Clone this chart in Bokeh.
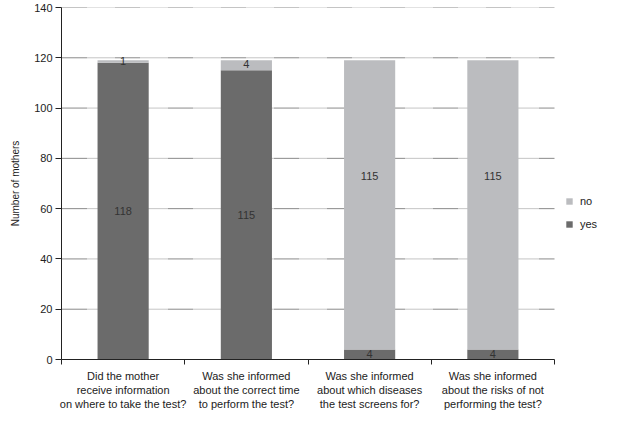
from bokeh.plotting import figure
from bokeh.models import ColumnDataSource, FixedTicker, Legend, LegendItem, Range1d
from bokeh.core.properties import value
from bokeh.embed import file_html
from bokeh.resources import INLINE

categories = [
    "Did the mother\nreceive information\non where to take the test?",
    "Was she informed\nabout the correct time\nto perform the test?",
    "Was she informed\nabout which diseases\nthe test screens for?",
    "Was she informed\nabout the risks of not\nperforming the test?",
]
yes = [118, 115, 4, 4]
no = [1, 4, 115, 115]
y_ticks = [0, 20, 40, 60, 80, 100, 120, 140]

FONT = "Liberation Sans"
YES_COLOR = "#6b6b6b"
NO_COLOR = "#bbbcbf"

W, H = 608, 413
LEFT = 61          # px left of plotting area
CAT_W = 493        # px width occupied by the categories
n = len(categories)
span = 2 * n
x_end = span * (W - LEFT) / CAT_W   # extra room on the right for the legend

xc = [2 * i + 1 for i in range(n)]
bounds = [2 * i for i in range(n + 1)]

src = ColumnDataSource(dict(
    x=xc, yes=yes, no=no,
    yes_lbl=[str(v) for v in yes],
    no_lbl=[str(v) for v in no],
    yes_y=[v / 2 for v in yes],
    no_y=[a + b * 0.6 for a, b in zip(yes, no)],
))
grid_src = ColumnDataSource(dict(y=y_ticks[1:], x0=[0] * (len(y_ticks) - 1),
                                 x1=[span] * (len(y_ticks) - 1)))

p = figure(width=W, height=H, x_range=Range1d(0, x_end), y_range=Range1d(0, 140),
           output_backend="svg", toolbar_location=None,
           min_border_left=LEFT, min_border_right=0, min_border_top=7, min_border_bottom=10)

p.segment(x0="x0", x1="x1", y0="y", y1="y", source=grid_src,
          line_color="#8a8a8a", line_width=1,
          line_dash="26 " + " ".join(["1"] * 27))

rs = p.vbar_stack(["yes", "no"], x="x", width=0.83, source=src,
                  color=[YES_COLOR, NO_COLOR], line_color=None)

for col, ycol in (("yes_lbl", "yes_y"), ("no_lbl", "no_y")):
    p.text(x="x", y=ycol, text=col, source=src, text_font=value(FONT),
           text_font_size="11px", text_color="#333333",
           text_align="center", text_baseline="middle")

p.outline_line_color = None
p.xgrid.grid_line_color = None
p.ygrid.grid_line_color = None

ya = p.yaxis[0]
ya.ticker = FixedTicker(ticks=y_ticks)
ya.major_tick_in = 0
ya.major_tick_out = 6
ya.minor_tick_line_color = None
ya.axis_line_color = "#222222"
ya.major_tick_line_color = "#222222"
ya.major_label_text_font = FONT
ya.major_label_text_font_size = "11px"
ya.major_label_text_color = "#222222"
ya.major_label_standoff = 3
ya.axis_label = "Number of mothers"
ya.axis_label_text_font = FONT
ya.axis_label_text_font_size = "10px"
ya.axis_label_text_font_style = "normal"
ya.axis_label_text_color = "#222222"
ya.axis_label_standoff = 10

xa = p.xaxis[0]
xa.bounds = (0, span)
xa.ticker = FixedTicker(ticks=xc, minor_ticks=bounds)
xa.major_tick_line_color = None
xa.major_tick_out = 0
xa.major_tick_in = 0
xa.minor_tick_line_color = "#222222"
xa.minor_tick_in = 0
xa.minor_tick_out = 5
xa.axis_line_color = "#222222"
xa.major_label_overrides = {c: lab for c, lab in zip(xc, categories)}
xa.major_label_text_font = FONT
xa.major_label_text_font_size = "11px"
xa.major_label_text_color = "#222222"
xa.major_label_standoff = 5

legend = Legend(items=[LegendItem(label="no", renderers=[rs[1]]),
                       LegendItem(label="yes", renderers=[rs[0]])],
                location=(CAT_W + 11, 129), padding=0, margin=0,
                border_line_color=None, background_fill_alpha=0,
                glyph_width=8, glyph_height=8, label_height=8,
                spacing=11, label_standoff=7,
                label_text_font=FONT, label_text_font_size="11px",
                label_text_color="#222222")
p.add_layout(legend, "center")

open("out.html", "w").write(file_html(p, INLINE))
